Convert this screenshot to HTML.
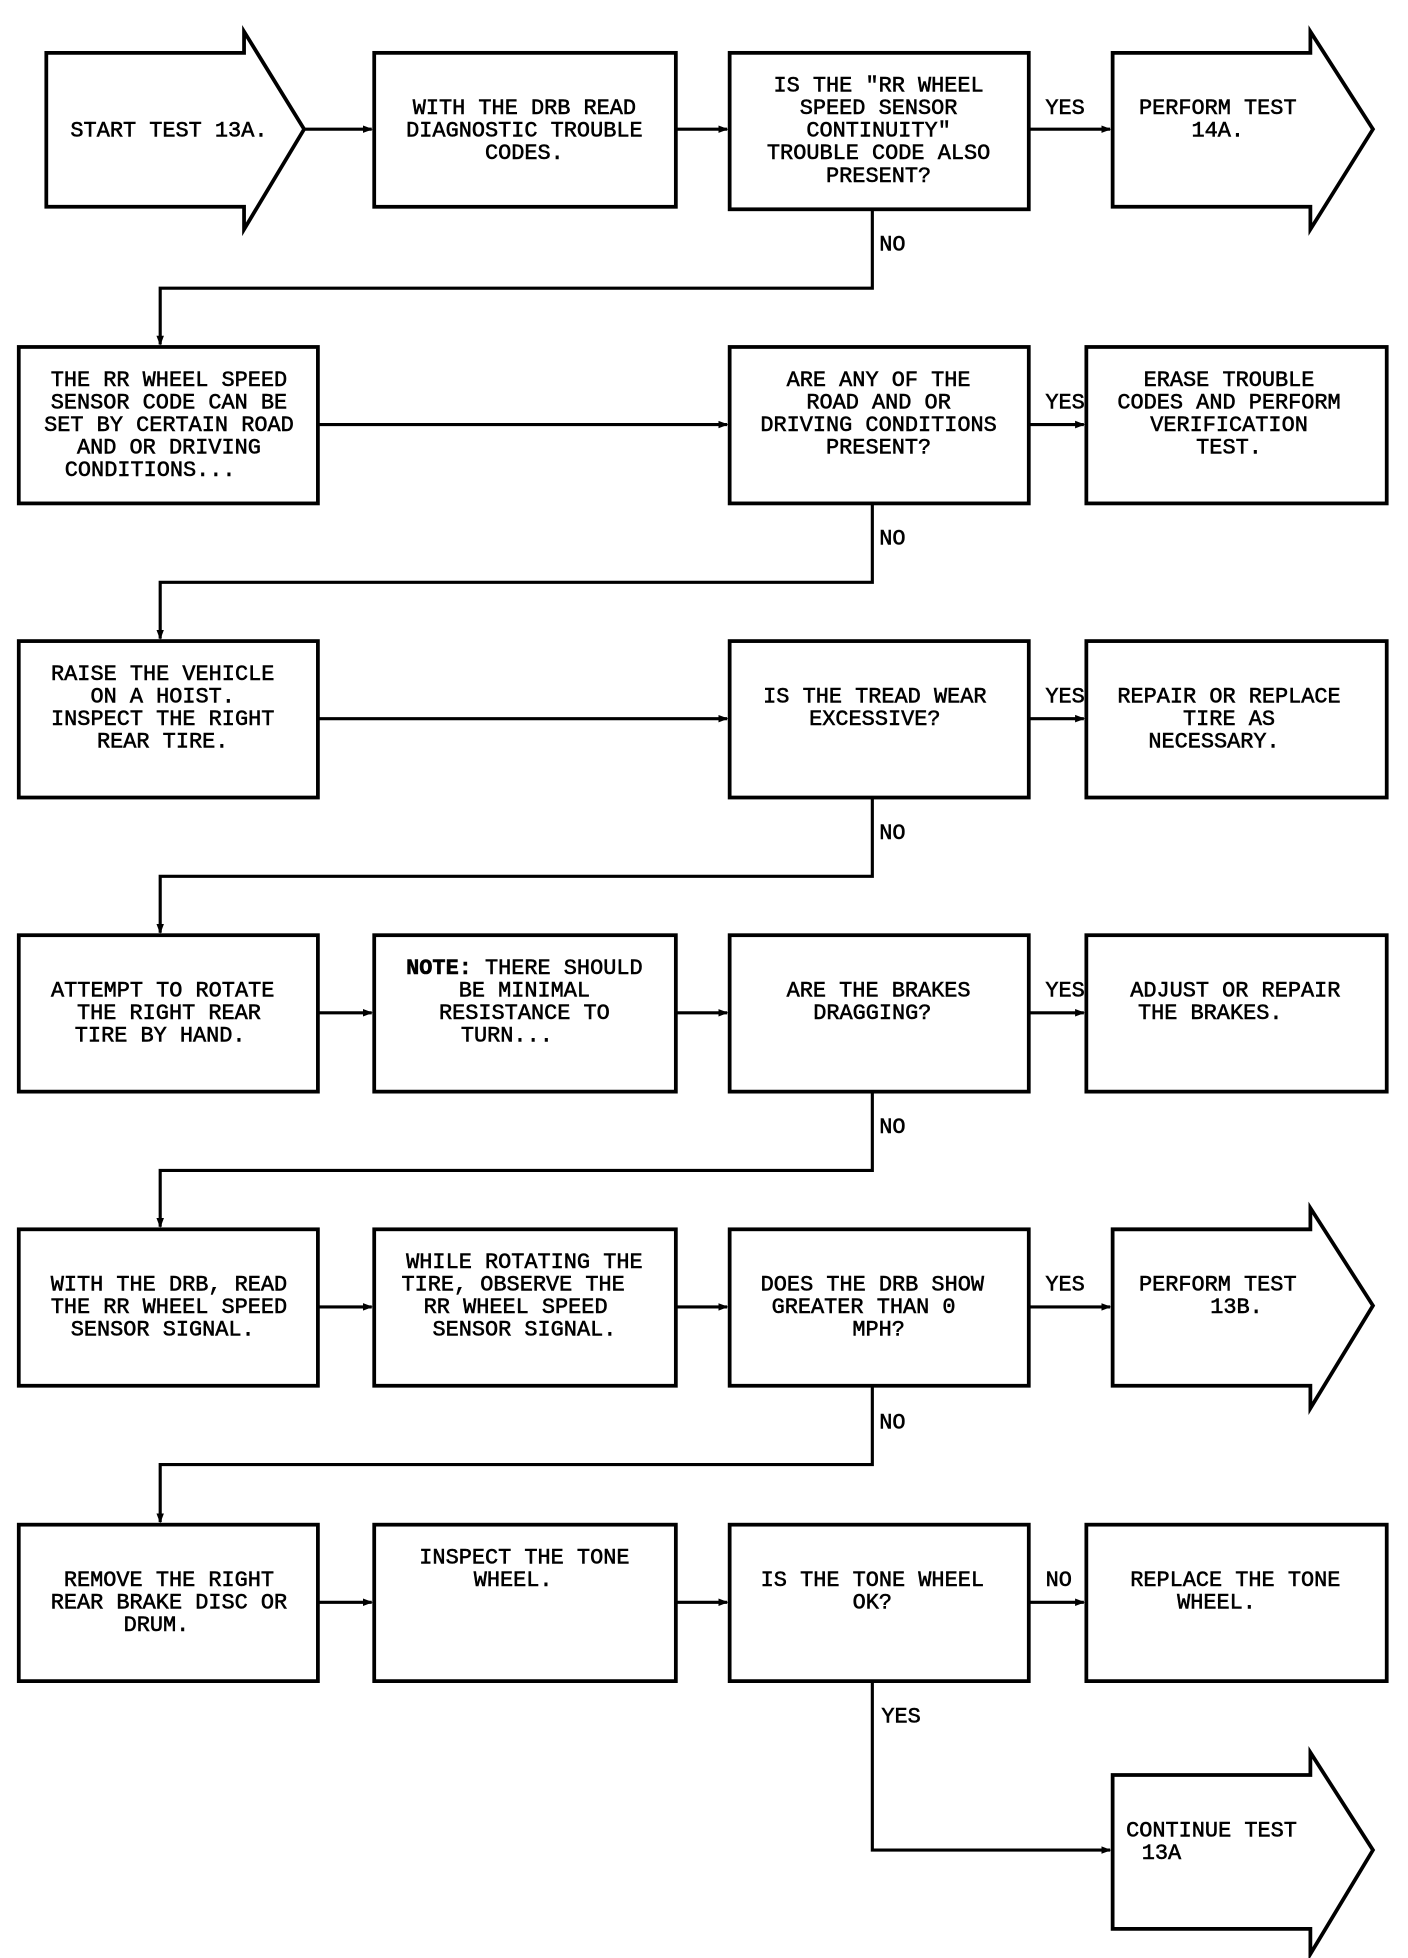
<!DOCTYPE html>
<html><head><meta charset="utf-8"><style>
html,body{margin:0;padding:0;background:#fff;}
svg{display:block;}
text{font-family:"Liberation Mono",monospace;font-size:17.5px;fill:#000;stroke:#000;stroke-width:0.45;text-anchor:middle;}
.b{fill:#fff;stroke:#000;stroke-width:3;}
.l{fill:none;stroke:#000;stroke-width:2.5;}
</style></head><body>
<svg width="1408" height="1958" viewBox="0 0 1125 1564" xmlns="http://www.w3.org/2000/svg">
<defs><marker id="a" markerWidth="8" markerHeight="8" refX="7" refY="4" orient="auto" markerUnits="userSpaceOnUse"><path d="M0,1 L8,4 L0,7z" fill="#000"/></marker></defs>

<polygon class="b" points="37,42 195,42 195,25 243,103 195,183 195,165 37,165"/>
<text x="135" y="109">START TEST 13A.</text>
<rect class="b" x="299" y="42" width="241" height="123"/>
<text x="419" y="91">WITH THE DRB READ</text><text x="419" y="109">DIAGNOSTIC TROUBLE</text><text x="419" y="127">CODES.</text>
<rect class="b" x="583" y="42" width="239" height="125"/>
<text x="702" y="73">IS THE "RR WHEEL</text><text x="702" y="91">SPEED SENSOR</text><text x="702" y="109">CONTINUITY"</text><text x="702" y="127">TROUBLE CODE ALSO</text><text x="702" y="145">PRESENT?</text>
<polygon class="b" points="889,42 1047,42 1047,25 1097,103 1047,183 1047,165 889,165"/>
<text x="973" y="91">PERFORM TEST</text><text x="973" y="109">14A.</text>
<line class="l" x1="243" y1="103" x2="297" y2="103" marker-end="url(#a)"/>
<line class="l" x1="540" y1="103" x2="581" y2="103" marker-end="url(#a)"/>
<line class="l" x1="822" y1="103" x2="887" y2="103" marker-end="url(#a)"/>
<text x="851" y="91">YES</text>
<polyline class="l" points="697,167 697,230 128,230 128,275" marker-end="url(#a)"/>
<text x="713" y="200">NO</text>

<rect class="b" x="15" y="277" width="239" height="125"/>
<text x="135" y="308">THE RR WHEEL SPEED</text><text x="135" y="326">SENSOR CODE CAN BE</text><text x="135" y="344">SET BY CERTAIN ROAD</text><text x="135" y="362">AND OR DRIVING</text><text x="120" y="380">CONDITIONS...</text>
<rect class="b" x="583" y="277" width="239" height="125"/>
<text x="702" y="308">ARE ANY OF THE</text><text x="702" y="326">ROAD AND OR</text><text x="702" y="344">DRIVING CONDITIONS</text><text x="702" y="362">PRESENT?</text>
<rect class="b" x="868" y="277" width="240" height="125"/>
<text x="982" y="308">ERASE TROUBLE</text><text x="982" y="326">CODES AND PERFORM</text><text x="982" y="344">VERIFICATION</text><text x="982" y="362">TEST.</text>
<line class="l" x1="254" y1="339" x2="581" y2="339" marker-end="url(#a)"/>
<line class="l" x1="822" y1="339" x2="866" y2="339" marker-end="url(#a)"/>
<text x="851" y="326">YES</text>
<polyline class="l" points="697,402 697,465 128,465 128,510" marker-end="url(#a)"/>
<text x="713" y="435">NO</text>

<rect class="b" x="15" y="512" width="239" height="125"/>
<text x="130" y="543">RAISE THE VEHICLE</text><text x="130" y="561">ON A HOIST.</text><text x="130" y="579">INSPECT THE RIGHT</text><text x="130" y="597">REAR TIRE.</text>
<rect class="b" x="583" y="512" width="239" height="125"/>
<text x="699" y="561">IS THE TREAD WEAR</text><text x="699" y="579">EXCESSIVE?</text>
<rect class="b" x="868" y="512" width="240" height="125"/>
<text x="982" y="561">REPAIR OR REPLACE</text><text x="982" y="579">TIRE AS</text><text x="970" y="597">NECESSARY.</text>
<line class="l" x1="254" y1="574" x2="581" y2="574" marker-end="url(#a)"/>
<line class="l" x1="822" y1="574" x2="866" y2="574" marker-end="url(#a)"/>
<text x="851" y="561">YES</text>
<polyline class="l" points="697,637 697,700 128,700 128,745" marker-end="url(#a)"/>
<text x="713" y="670">NO</text>

<rect class="b" x="15" y="747" width="239" height="125"/>
<text x="130" y="796">ATTEMPT TO ROTATE</text><text x="135" y="814">THE RIGHT REAR</text><text x="128" y="832">TIRE BY HAND.</text>
<rect class="b" x="299" y="747" width="241" height="125"/>
<text x="419" y="778"><tspan font-weight="bold">NOTE:</tspan> THERE SHOULD</text><text x="419" y="796">BE MINIMAL</text><text x="419" y="814">RESISTANCE TO</text><text x="405" y="832">TURN...</text>
<rect class="b" x="583" y="747" width="239" height="125"/>
<text x="702" y="796">ARE THE BRAKES</text><text x="697" y="814">DRAGGING?</text>
<rect class="b" x="868" y="747" width="240" height="125"/>
<text x="987" y="796">ADJUST OR REPAIR</text><text x="967" y="814">THE BRAKES.</text>
<line class="l" x1="254" y1="809" x2="297" y2="809" marker-end="url(#a)"/>
<line class="l" x1="540" y1="809" x2="581" y2="809" marker-end="url(#a)"/>
<line class="l" x1="822" y1="809" x2="866" y2="809" marker-end="url(#a)"/>
<text x="851" y="796">YES</text>
<polyline class="l" points="697,872 697,935 128,935 128,980" marker-end="url(#a)"/>
<text x="713" y="905">NO</text>

<rect class="b" x="15" y="982" width="239" height="125"/>
<text x="135" y="1031">WITH THE DRB, READ</text><text x="135" y="1049">THE RR WHEEL SPEED</text><text x="130" y="1067">SENSOR SIGNAL.</text>
<rect class="b" x="299" y="982" width="241" height="125"/>
<text x="419" y="1013">WHILE ROTATING THE</text><text x="410" y="1031">TIRE, OBSERVE THE</text><text x="412" y="1049">RR WHEEL SPEED</text><text x="419" y="1067">SENSOR SIGNAL.</text>
<rect class="b" x="583" y="982" width="239" height="125"/>
<text x="697" y="1031">DOES THE DRB SHOW</text><text x="690" y="1049">GREATER THAN 0</text><text x="702" y="1067">MPH?</text>
<polygon class="b" points="889,982 1047,982 1047,965 1097,1043 1047,1125 1047,1107 889,1107"/>
<text x="973" y="1031">PERFORM TEST</text><text x="988" y="1049">13B.</text>
<line class="l" x1="254" y1="1044" x2="297" y2="1044" marker-end="url(#a)"/>
<line class="l" x1="540" y1="1044" x2="581" y2="1044" marker-end="url(#a)"/>
<line class="l" x1="822" y1="1044" x2="887" y2="1044" marker-end="url(#a)"/>
<text x="851" y="1031">YES</text>
<polyline class="l" points="697,1107 697,1170 128,1170 128,1216" marker-end="url(#a)"/>
<text x="713" y="1141">NO</text>

<rect class="b" x="15" y="1218" width="239" height="125"/>
<text x="135" y="1267">REMOVE THE RIGHT</text><text x="135" y="1285">REAR BRAKE DISC OR</text><text x="125" y="1303">DRUM.</text>
<rect class="b" x="299" y="1218" width="241" height="125"/>
<text x="419" y="1249">INSPECT THE TONE</text><text x="410" y="1267">WHEEL.</text>
<rect class="b" x="583" y="1218" width="239" height="125"/>
<text x="697" y="1267">IS THE TONE WHEEL</text><text x="697" y="1285">OK?</text>
<rect class="b" x="868" y="1218" width="240" height="125"/>
<text x="987" y="1267">REPLACE THE TONE</text><text x="972" y="1285">WHEEL.</text>
<line class="l" x1="254" y1="1280" x2="297" y2="1280" marker-end="url(#a)"/>
<line class="l" x1="540" y1="1280" x2="581" y2="1280" marker-end="url(#a)"/>
<line class="l" x1="822" y1="1280" x2="866" y2="1280" marker-end="url(#a)"/>
<text x="846" y="1267">NO</text>
<polyline class="l" points="697,1343 697,1478 887,1478" marker-end="url(#a)"/>
<text x="720" y="1376">YES</text>
<polygon class="b" points="889,1418 1047,1418 1047,1400 1097,1478 1047,1561 1047,1541 889,1541"/>
<text x="968" y="1467">CONTINUE TEST</text><text x="928" y="1485">13A</text>
</svg>
</body></html>
